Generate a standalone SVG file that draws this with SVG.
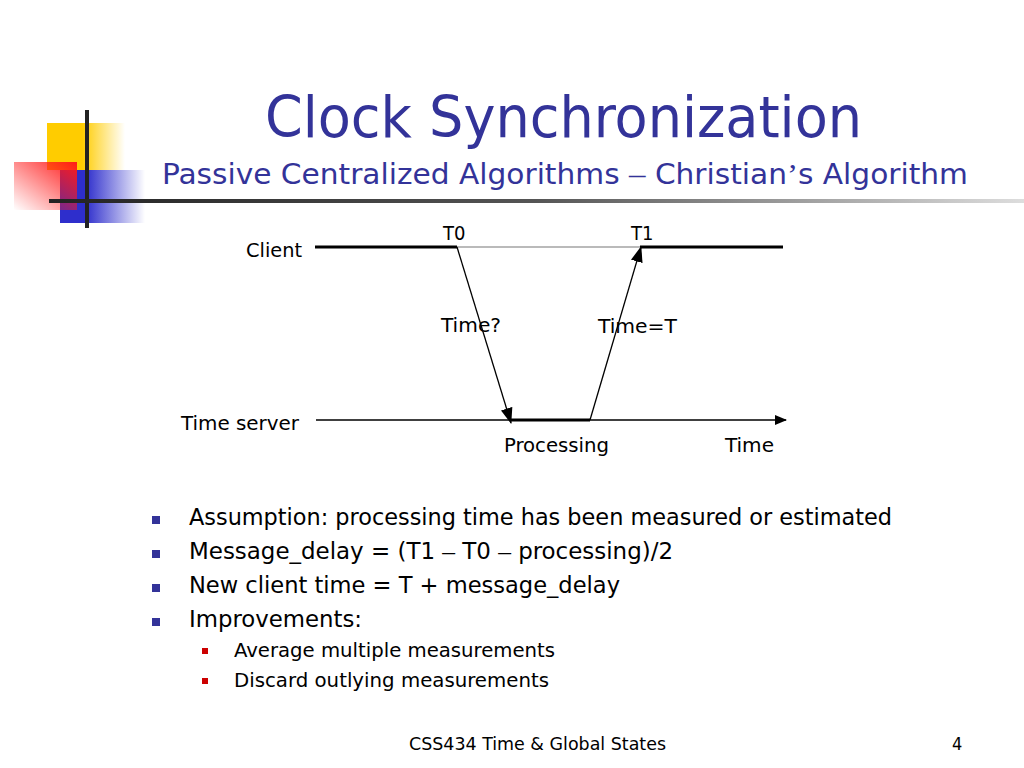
<svg xmlns="http://www.w3.org/2000/svg" width="1024" height="768" viewBox="0 0 1024 768">
<defs>
<linearGradient id="gy" x1="0" x2="1" y1="0" y2="0"><stop offset="0.45" stop-color="#ffcc00"/><stop offset="1" stop-color="#ffcc00" stop-opacity="0"/></linearGradient>
<linearGradient id="gr" x1="1" y1="0" x2="0" y2="1"><stop offset="0" stop-color="#ff1a1a"/><stop offset="1" stop-color="#ff1a1a" stop-opacity="0"/></linearGradient>
<linearGradient id="gb" x1="0" x2="1" y1="0" y2="0"><stop offset="0.3" stop-color="#2e2ecc"/><stop offset="1" stop-color="#2e2ecc" stop-opacity="0"/></linearGradient>
<linearGradient id="gl" x1="0" x2="1" y1="0" y2="0"><stop offset="0" stop-color="#222"/><stop offset="0.5" stop-color="#555"/><stop offset="1" stop-color="#ddd"/></linearGradient>
<marker id="ah" markerWidth="12" markerHeight="10" refX="11" refY="5" orient="auto" markerUnits="userSpaceOnUse"><path d="M0,0 L12,5 L0,10 z" fill="#000"/></marker>
<marker id="ah2" markerWidth="16" markerHeight="12" refX="15" refY="6" orient="auto" markerUnits="userSpaceOnUse"><path d="M0,0 L16,6 L0,12 z" fill="#000"/></marker>
<style>
text{font-family:"DejaVu Sans Condensed","DejaVu Sans",sans-serif}
.t{font-size:20px;fill:#000}
.b{font-size:23px;fill:#000}
.s{font-size:20px;fill:#000}
</style>
</defs>
<rect width="1024" height="768" fill="#fff"/>
<g id="logo">
<rect x="47" y="123" width="78" height="47" fill="url(#gy)"/>
<rect x="60" y="170" width="85" height="53" fill="url(#gb)"/>
<rect x="14" y="162" width="63" height="48" fill="url(#gr)"/>
<rect x="85" y="110" width="4" height="118" fill="#222"/>
<rect x="49" y="199" width="975" height="4" fill="url(#gl)"/>
</g>
<g id="title">
<text x="265" y="137" font-size="57" fill="#333399" textLength="597" lengthAdjust="spacingAndGlyphs">Clock Synchronization</text>
<text x="162" y="184" font-size="29" fill="#333399" textLength="806" lengthAdjust="spacingAndGlyphs">Passive Centralized Algorithms <tspan font-family="Liberation Serif">–</tspan> Christian<tspan font-family="Liberation Serif">’</tspan>s Algorithm</text>
</g>
<g id="connectors" stroke="#000" fill="none">
<line x1="315" y1="247" x2="457" y2="247" stroke-width="3"/>
<line x1="457" y1="247" x2="640" y2="247" stroke="#777" stroke-width="1.2"/>
<line x1="640" y1="247" x2="783" y2="247" stroke-width="3"/>
<line x1="316" y1="420" x2="786" y2="420" stroke-width="1.3" marker-end="url(#ah)"/>
<line x1="510" y1="420" x2="590" y2="420" stroke-width="3"/>
<line x1="457" y1="247" x2="511" y2="423" stroke-width="1.3" marker-end="url(#ah2)"/>
<line x1="590" y1="420" x2="641" y2="247" stroke-width="1.3" marker-end="url(#ah2)"/>
</g>
<g id="labels">
<text class="t" x="246" y="257" textLength="56" lengthAdjust="spacingAndGlyphs">Client</text>
<text class="t" x="443" y="240">T0</text>
<text class="t" x="631" y="240">T1</text>
<text class="t" x="441" y="332" textLength="60" lengthAdjust="spacingAndGlyphs">Time?</text>
<text class="t" x="598" y="333" textLength="79" lengthAdjust="spacingAndGlyphs">Time=T</text>
<text class="t" x="181" y="430" textLength="118" lengthAdjust="spacingAndGlyphs">Time server</text>
<text class="t" x="504" y="452" textLength="105" lengthAdjust="spacingAndGlyphs">Processing</text>
<text class="t" x="725" y="452" textLength="49" lengthAdjust="spacingAndGlyphs">Time</text>
</g>
<g id="bullets">
<rect x="152" y="516" width="8" height="8" fill="#333399"/>
<rect x="152" y="550" width="8" height="8" fill="#333399"/>
<rect x="152" y="584" width="8" height="8" fill="#333399"/>
<rect x="152" y="618" width="8" height="8" fill="#333399"/>
<rect x="202" y="648" width="6" height="6" fill="#cc0000"/>
<rect x="202" y="678" width="6" height="6" fill="#cc0000"/>
<text class="b" x="189" y="525" textLength="703" lengthAdjust="spacingAndGlyphs">Assumption: processing time has been measured or estimated</text>
<text class="b" x="189" y="559" textLength="484" lengthAdjust="spacingAndGlyphs">Message_delay = (T1 <tspan font-family="Liberation Serif">–</tspan> T0 <tspan font-family="Liberation Serif">–</tspan> processing)/2</text>
<text class="b" x="189" y="593" textLength="431" lengthAdjust="spacingAndGlyphs">New client time = T + message_delay</text>
<text class="b" x="189" y="627" textLength="173" lengthAdjust="spacingAndGlyphs">Improvements:</text>
<text class="s" x="234" y="657" textLength="321" lengthAdjust="spacingAndGlyphs">Average multiple measurements</text>
<text class="s" x="234" y="687" textLength="315" lengthAdjust="spacingAndGlyphs">Discard outlying measurements</text>
</g>
<g id="footer">
<text x="409" y="750" font-size="18" fill="#000" textLength="257" lengthAdjust="spacingAndGlyphs">CSS434 Time &amp; Global States</text>
<text x="952" y="750" font-size="18" fill="#000">4</text>
</g>
</svg>
